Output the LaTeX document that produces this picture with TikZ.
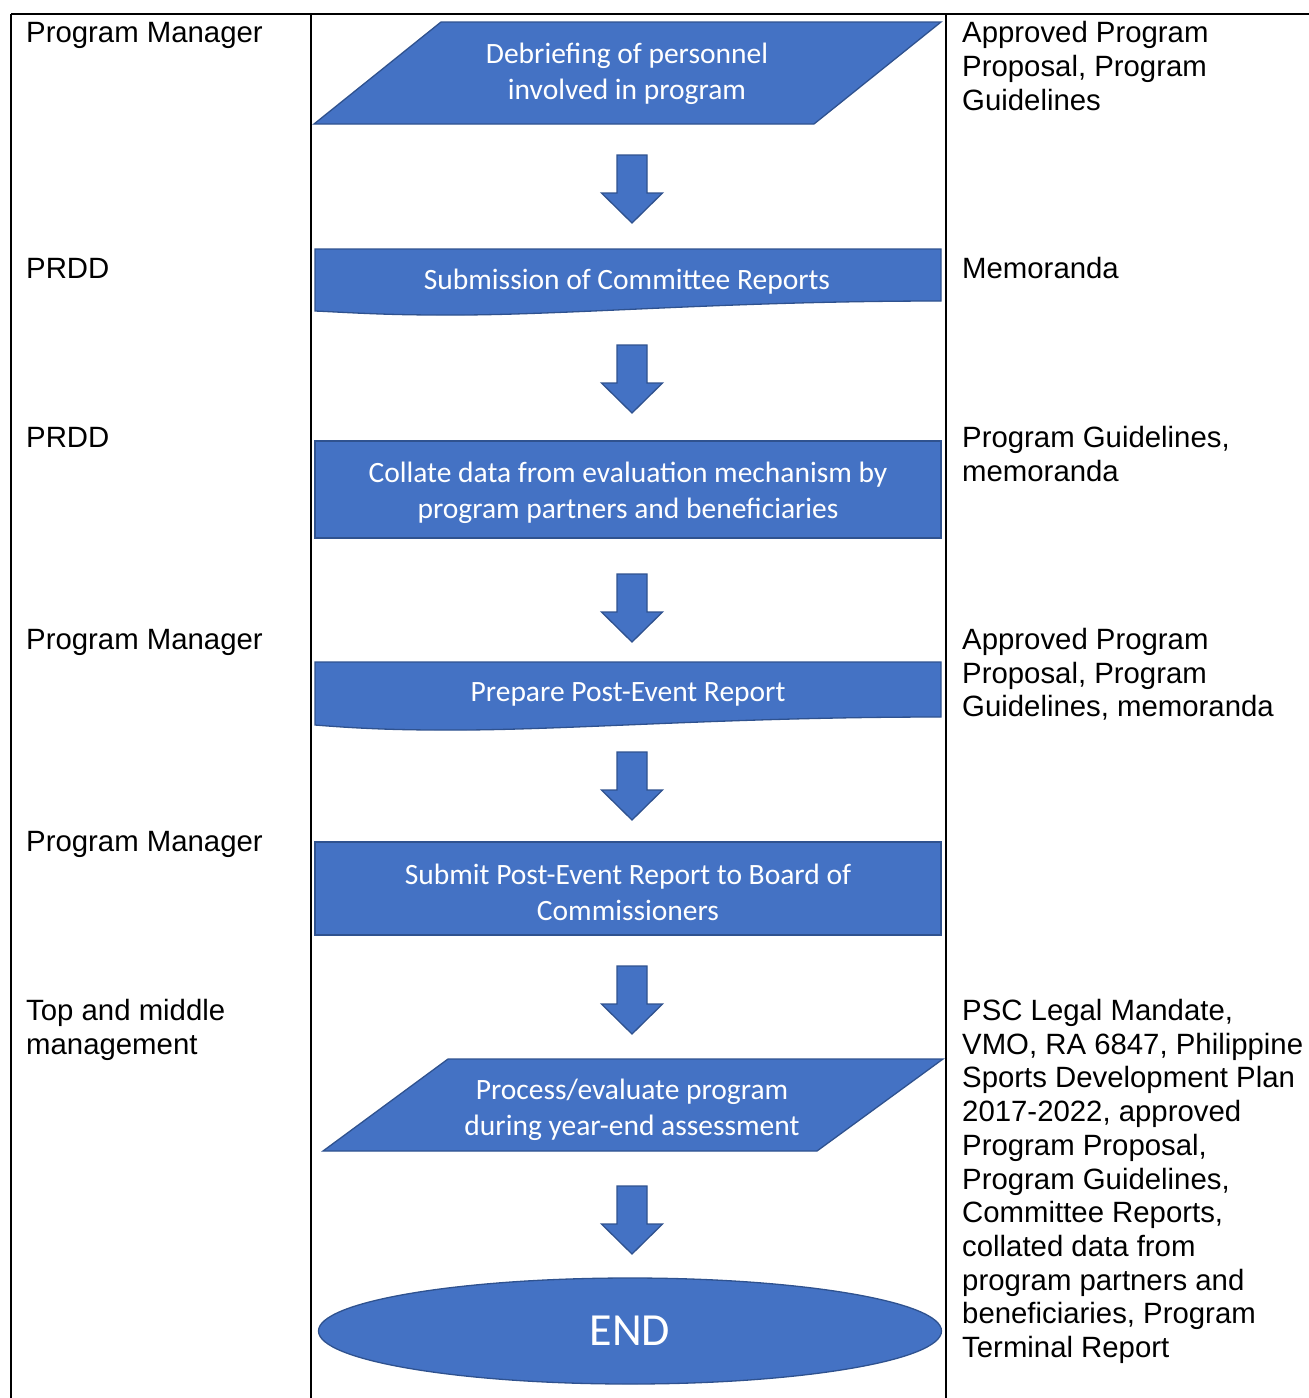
\documentclass[tikz,border=0pt]{standalone}
\usepackage{fontspec}
\setmainfont{Liberation Sans}
\newfontfamily\calfont{Carlito}
\usetikzlibrary{shapes.geometric}
\definecolor{blu}{HTML}{4472C4}
\definecolor{bluedge}{HTML}{2F528F}
\begin{document}
\begin{tikzpicture}[x=1pt,y=-1pt,
  shapefill/.style={fill=blu,draw=bluedge,line width=1.3pt,line join=miter},
  rule/.style={line width=2pt,black},
  cell/.style={anchor=base west,inner sep=0pt,font=\fontsize{29.35}{33.7}\selectfont},
  btext/.style={inner sep=0pt,align=center,text=white,font=\calfont\fontsize{29.5}{36}\selectfont},
  barrow/.pic={\path[shapefill] (-15,0) -- (15,0) -- (15,38) -- (30.5,38) -- (0,68) -- (-30.5,38) -- (-15,38) -- cycle;}
]
\useasboundingbox (0,0) rectangle (1309,1398);
% table rules
\draw[rule] (11,14) -- (1309,14);
\draw[rule] (11,14) -- (11,1398);
\draw[rule] (311,14) -- (311,1398);
\draw[rule] (946,14) -- (946,1398);

% left column
\node[cell] (l1) at (26,42.7) {\begin{tabular}[t]{@{}l@{}}Program Manager\end{tabular}};
\node[cell] (l2) at (26,278.5) {\begin{tabular}[t]{@{}l@{}}PRDD\end{tabular}};
\node[cell] (l3) at (26,447.5) {\begin{tabular}[t]{@{}l@{}}PRDD\end{tabular}};
\node[cell] (l4) at (26,649.5) {\begin{tabular}[t]{@{}l@{}}Program Manager\end{tabular}};
\node[cell] (l5) at (26,851.5) {\begin{tabular}[t]{@{}l@{}}Program Manager\end{tabular}};
\node[cell] (l6) at (26,1020.5) {\begin{tabular}[t]{@{}l@{}}Top and middle\\management\end{tabular}};

% right column
\node[cell] (r1) at (962,42.7) {\begin{tabular}[t]{@{}l@{}}Approved Program\\Proposal, Program\\Guidelines\end{tabular}};
\node[cell] (r2) at (962,278.5) {\begin{tabular}[t]{@{}l@{}}Memoranda\end{tabular}};
\node[cell] (r3) at (962,447.5) {\begin{tabular}[t]{@{}l@{}}Program Guidelines,\\memoranda\end{tabular}};
\node[cell] (r4) at (962,649.5) {\begin{tabular}[t]{@{}l@{}}Approved Program\\Proposal, Program\\Guidelines, memoranda\end{tabular}};
\node[cell] (r5) at (962,1020.5) {\begin{tabular}[t]{@{}l@{}}PSC Legal Mandate,\\VMO, RA 6847, Philippine\\Sports Development Plan\\2017-2022, approved\\Program Proposal,\\Program Guidelines,\\Committee Reports,\\collated data from\\program partners and\\beneficiaries, Program\\Terminal Report\end{tabular}};

% shapes
\path[shapefill] (441,22) -- (941,22) -- (814,124) -- (314,124) -- cycle;
\node[btext] (s1) at (627,73.5) {Debriefing of personnel\\involved in program};

\path[shapefill] (315,249) -- (941,249) -- (941,301)
  .. controls (720,301) and (560,316) .. (440,315)
  .. controls (380,315) and (340,312) .. (315,311) -- cycle;
\node[btext] (s2) at (627,282) {Submission of Committee Reports};

\path[shapefill] (315,441) rectangle (941,538);
\node[btext] (s3) at (628,492.5) {Collate data from evaluation mechanism by\\program partners and beneficiaries};

\path[shapefill] (315,662) -- (941,662) -- (941,717)
  .. controls (720,717) and (560,731) .. (440,730)
  .. controls (380,730) and (340,727) .. (315,725) -- cycle;
\node[btext] (s4) at (628,694.5) {Prepare Post-Event Report};

\path[shapefill] (315,842) rectangle (941,935);
\node[btext] (s5) at (628,892.5) {Submit Post-Event Report to Board of\\Commissioners};

\path[shapefill] (448,1059) -- (943,1059) -- (817,1151) -- (323,1151) -- cycle;
\node[btext] (s6) at (632,1109.5) {Process/evaluate program\\during year-end assessment};

\node[ellipse,shapefill,minimum width=623pt,minimum height=106pt,inner sep=0pt,
  text=white,font=\calfont\fontsize{46}{54}\selectfont] (s7) at (630,1331) {END};

% block arrows
\pic (a1) at (632,155) {barrow};
\pic (a2) at (632,345) {barrow};
\pic (a3) at (632,574) {barrow};
\pic (a4) at (632,752) {barrow};
\pic (a5) at (632,966) {barrow};
\pic (a6) at (632,1186) {barrow};
\end{tikzpicture}
\end{document}
